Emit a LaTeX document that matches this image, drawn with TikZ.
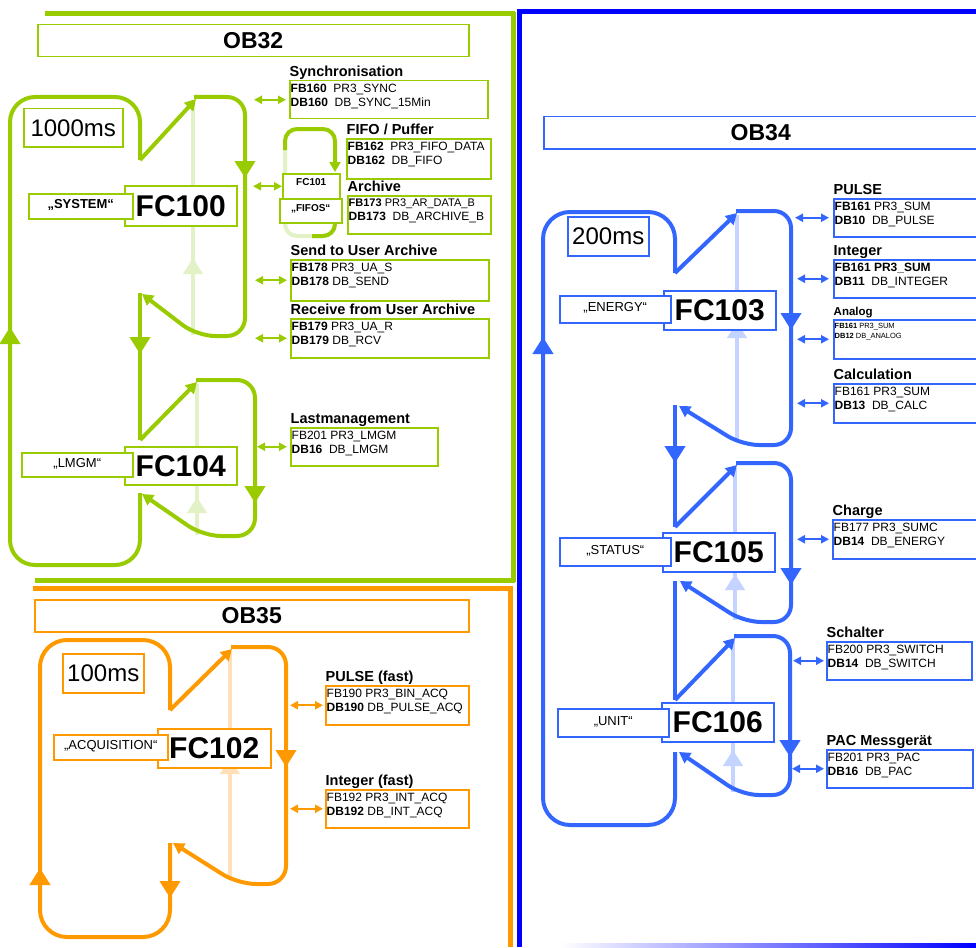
\documentclass[tikz,border=0pt]{standalone}
\usepackage{fontspec}
\setmainfont{Liberation Sans}
\usetikzlibrary{arrows.meta}
\definecolor{gC}{HTML}{99CC00}
\definecolor{gL}{HTML}{E2F1C6}
\definecolor{oC}{HTML}{FF9900}
\definecolor{oL}{HTML}{FFE0B8}
\definecolor{bC}{HTML}{3366FF}
\definecolor{bL}{HTML}{C4D3FF}
\definecolor{frameB}{HTML}{0000FF}
\newcommand\infobox[9][]{%
  \node[#3, minimum width=#6pt, minimum height=#7pt] (#2) at (#4,#5) {};
  \node[ttl] at (#2.north west) {#8};
  \node[lns,#1] at (#2.north west) {#9};
}
\begin{document}
\begin{tikzpicture}[x=1pt,y=-1pt,
 lw/.style={line width=4pt},
 gl/.style={lw,draw=gC}, gt/.style={lw,draw=gL},
 ol/.style={lw,draw=oC}, ot/.style={lw,draw=oL},
 bl/.style={lw,draw=bC}, bt/.style={lw,draw=bL},
 bigtip/.style={-{Triangle[length=17pt,width=20pt]}},
 diagtip/.style={-{Triangle[length=11pt,width=12pt]}},
 lighttip/.style={-{Triangle[length=16pt,width=19pt]}},
 dbl/.style={line width=2.2pt,{Triangle[length=8pt,width=8pt]}-{Triangle[length=8pt,width=8pt]}},
 frm/.style={line width=1.5pt, fill=white, inner sep=0pt, anchor=north west},
 gbox/.style={frm,draw=gC}, obox/.style={frm,draw=oC}, bbox/.style={frm,draw=bC},
 obt/.style={font=\fontsize{23}{26}\selectfont\bfseries},
 fcf/.style={font=\fontsize{30}{32}\selectfont\bfseries},
 tmf/.style={font=\fontsize{24}{26}\selectfont},
 lab/.style={font=\fontsize{13}{15}\selectfont, text depth=4pt},
 ttl/.style={anchor=south west, inner xsep=0.5pt, inner ysep=1pt, text depth=2.5pt, font=\fontsize{14.5}{16}\selectfont\bfseries},
 lns/.style={anchor=north west, align=left, inner xsep=1.5pt, inner ysep=4pt, font=\fontsize{12}{14}\selectfont},
]
\useasboundingbox[fill=white] (0,0) rectangle (976,947);

% ---------- frame lines ----------
\draw[gC, line width=5pt] (45,14) -- (515,14);
\draw[gC, line width=5pt] (513,12) -- (513,582);
\draw[gC, line width=5pt] (35,580) -- (515,580);
\draw[oC, line width=5pt] (33,588) -- (512,588);
\draw[oC, line width=5pt] (510,586) -- (510,947);
\draw[frameB, line width=5pt] (519,10) -- (519,947);
\draw[frameB, line width=5pt] (517,12) -- (976,12);
\shade[left color=white, right color=frameB] (560,943) rectangle (976,947);

% ---------- OB32 (green) ----------
\draw[gt] (193,100) -- (193,335);
\draw[gt, lighttip] (193,300) -- (193,258);
\draw[gl, rounded corners=25] (140,160) -- (140,97) -- (10,97) -- (10,565) -- (140,565) -- (140,493);
\draw[gl, bigtip] (10,360) -- (10,327);
\draw[gl, diagtip] (140,160) -- (196,99);
\draw[gl, rounded corners=18, diagtip] (194,97) -- (245,97) -- (245,336) -- (197,336) -- (142,294);
\draw[gl, bigtip] (245,150) -- (245,178);
\draw[gl] (140,293) -- (140,440);
\draw[gl, bigtip] (140,320) -- (140,354);
% FC104 loop
\draw[gt] (197,384) -- (197,535);
\draw[gt, lighttip] (197,525) -- (197,497);
\draw[gl, diagtip] (140,440) -- (197,382);
\draw[gl, rounded corners=18, diagtip] (196,380) -- (255,380) -- (255,536) -- (203,536) -- (142,494);
\draw[gl, bigtip] (255,470) -- (255,503);
% FIFO loop
\draw[gt, rounded corners=12] (285,150) -- (285,236) -- (335,236) -- (335,222);
\draw[gl, rounded corners=12, -{Triangle[length=10pt,width=11pt]}] (285,150) -- (285,129) -- (335,129) -- (335,172);
\draw[gl, rounded corners=12] (335,222) -- (335,236) -- (312,236);

\node[gbox, obt, minimum width=431pt, minimum height=32pt] (ob32) at (37,24) {OB32};
\node[gbox, tmf, minimum width=99pt, minimum height=38pt] (t1000) at (23,108) {1000ms};
\node[gbox, fcf, minimum width=112pt, minimum height=40pt] (fc100) at (124,185) {FC100};
\node[gbox, lab, font=\fontsize{13}{15}\selectfont\bfseries, minimum width=104pt, minimum height=25pt] (sys) at (28,193) {„SYSTEM“};
\node[gbox, fcf, minimum width=112pt, minimum height=38pt] (fc104) at (124,446) {FC104};
\node[gbox, lab, minimum width=111pt, minimum height=24pt] (lmgmlab) at (21,452) {„LMGM“};
\node[gbox, font=\fontsize{10}{12}\selectfont\bfseries, text depth=8pt, minimum width=57pt, minimum height=25pt] (fc101) at (282,173) {FC101};
\node[gbox, font=\fontsize{10}{12}\selectfont\bfseries, text depth=6pt, minimum width=62pt, minimum height=24pt] (fifos) at (279,198) {„FIFOS“};

\infobox{sync}{gbox}{289}{80}{198}{38}{Synchronisation}{\textbf{FB160}\ \ PR3\_SYNC\\\textbf{DB160}\ \ DB\_SYNC\_15Min}
\infobox{fifo}{gbox}{346}{138}{144}{40}{FIFO / Puffer}{\textbf{FB162}\ \ PR3\_FIFO\_DATA\\\textbf{DB162}\ \ DB\_FIFO}
\infobox{arch}{gbox}{347}{195}{143}{38}{Archive}{{\fontsize{11}{14}\selectfont\textbf{FB173}\ PR3\_AR\_DATA\_B}\\\textbf{DB173}\ \ DB\_ARCHIVE\_B}
\infobox{send}{gbox}{290}{259}{198}{41}{Send to User Archive}{\textbf{FB178}\ PR3\_UA\_S\\\textbf{DB178}\ DB\_SEND}
\infobox{rcv}{gbox}{290}{318}{198}{39}{Receive from User Archive}{\textbf{FB179}\ PR3\_UA\_R\\\textbf{DB179}\ DB\_RCV}
\infobox{lmgm}{gbox}{290}{427}{147}{38}{Lastmanagement}{FB201 PR3\_LMGM\\\textbf{DB16}\ \ DB\_LMGM}

\draw[gC, dbl] ([xshift=-3pt]sync.west) -- ++(-32,0);
\draw[gC, dbl] (fc101.west) -- ++(-29,0);
\draw[gC, dbl] ([xshift=-3pt]send.west) -- ++(-32,0);
\draw[gC, dbl] ([xshift=-3pt]rcv.west) -- ++(-32,0);
\draw[gC, dbl] ([xshift=-3pt]lmgm.west) -- ++(-30,0);

% ---------- OB35 (orange) ----------
\draw[ot] (230,652) -- (230,880);
\draw[ot, lighttip] (230,790) -- (230,758);
\draw[ol, rounded corners=27] (170,710) -- (170,640) -- (40,640) -- (40,937) -- (170,937) -- (170,843);
\draw[ol, bigtip] (40,900) -- (40,868);
\draw[ol, bigtip] (170,865) -- (170,898);
\draw[ol, diagtip] (170,710) -- (232,649);
\draw[ol, rounded corners=18, diagtip] (231,647) -- (286,647) -- (286,884) -- (238,884) -- (173,843);
\draw[ol, bigtip] (286,735) -- (286,767);

\node[obox, obt, minimum width=434pt, minimum height=32pt] (ob35) at (34,599) {OB35};
\node[obox, tmf, minimum width=81pt, minimum height=39pt] (t100) at (62,653) {100ms};
\node[obox, fcf, minimum width=113pt, minimum height=39pt] (fc102) at (157,728) {FC102};
\node[obox, lab, minimum width=114pt, minimum height=25pt] (acq) at (53,734) {„ACQUISITION“};

\infobox{pulsef}{obox}{325}{685}{143}{39}{PULSE (fast)}{FB190 PR3\_BIN\_ACQ\\\textbf{DB190} DB\_PULSE\_ACQ}
\infobox{intf}{obox}{325}{789}{143}{38}{Integer (fast)}{FB192 PR3\_INT\_ACQ\\\textbf{DB192} DB\_INT\_ACQ}
\draw[oC, dbl] ([xshift=-2pt]pulsef.west) -- ++(-33,0);
\draw[oC, dbl] ([xshift=-2pt]intf.west) -- ++(-33,0);

% ---------- OB34 (blue) ----------
\draw[bt] (737,215) -- (737,442);
\draw[bt, lighttip] (737,345) -- (737,322);
\draw[bl, rounded corners=27] (675,273) -- (675,212) -- (543,212) -- (543,825) -- (675,825) -- (675,752);
\draw[bl, bigtip] (543,380) -- (543,337);
\draw[bl, diagtip] (675,273) -- (737,213);
\draw[bl, rounded corners=17, diagtip] (736,211) -- (791,211) -- (791,445) -- (742,445) -- (679,406);
\draw[bl, bigtip] (791,300) -- (791,330);
\draw[bl] (675,405) -- (675,527);
\draw[bl, bigtip] (675,430) -- (675,463);
% FC105
\draw[bt] (735,468) -- (735,620);
\draw[bt, lighttip] (735,595) -- (735,574);
\draw[bl, diagtip] (675,527) -- (737,465);
\draw[bl, rounded corners=17, diagtip] (736,463) -- (791,463) -- (791,622) -- (744,622) -- (680,581);
\draw[bl, bigtip] (791,555) -- (791,585);
\draw[bl] (675,581) -- (675,700);
% FC106
\draw[bt] (733,640) -- (733,792);
\draw[bt, lighttip] (733,770) -- (733,750);
\draw[bl, diagtip] (675,700) -- (735,638);
\draw[bl, rounded corners=17, diagtip] (734,636) -- (790,636) -- (790,795) -- (742,795) -- (679,752);
\draw[bl, bigtip] (790,725) -- (790,757);

\node[bbox, obt, minimum width=434pt, minimum height=32pt] (ob34) at (543,116) {OB34};
\node[bbox, tmf, minimum width=81pt, minimum height=39pt] (t200) at (567,216) {200ms};
\node[bbox, fcf, minimum width=112pt, minimum height=39pt] (fc103) at (663,290) {FC103};
\node[bbox, lab, minimum width=111pt, minimum height=27pt] (energy) at (559,295) {„ENERGY“};
\node[bbox, fcf, minimum width=112pt, minimum height=39pt] (fc105) at (662,532) {FC105};
\node[bbox, lab, minimum width=111pt, minimum height=28pt] (status) at (559,537) {„STATUS“};
\node[bbox, fcf, minimum width=112pt, minimum height=39pt] (fc106) at (661,702) {FC106};
\node[bbox, lab, minimum width=111pt, minimum height=28pt] (unit) at (557,708) {„UNIT“};

\infobox{bpulse}{bbox}{833}{198}{150}{38}{PULSE}{\textbf{FB161} PR3\_SUM\\\textbf{DB10}\ \ DB\_PULSE}
\infobox{bint}{bbox}{833}{259}{150}{38}{Integer}{\textbf{FB161 PR3\_SUM}\\\textbf{DB11}\ \ DB\_INTEGER}
\infobox[font=\fontsize{7.5}{10}\selectfont]{bana}{bbox}{833}{319}{150}{39}{{\fontsize{11.5}{13}\selectfont Analog}}{\textbf{FB161} PR3\_SUM\\\textbf{DB12} DB\_ANALOG}
\infobox{bcalc}{bbox}{833}{383}{150}{39}{Calculation}{FB161 PR3\_SUM\\\textbf{DB13}\ \ DB\_CALC}
\infobox{bchg}{bbox}{832}{519}{150}{39}{Charge}{FB177 PR3\_SUMC\\\textbf{DB14}\ \ DB\_ENERGY}
\infobox{bsch}{bbox}{826}{641}{145}{38}{Schalter}{FB200 PR3\_SWITCH\\\textbf{DB14}\ \ DB\_SWITCH}
\infobox{bpac}{bbox}{826}{749}{146}{38}{PAC Messgerät}{FB201 PR3\_PAC\\\textbf{DB16}\ \ DB\_PAC}

\draw[bC, dbl] ([xshift=-4pt]bpulse.west) -- ++(-34,0);
\draw[bC, dbl] ([xshift=-4pt]bint.west) -- ++(-32,0);
\draw[bC, dbl] ([xshift=-4pt]bana.west) -- ++(-32,0);
\draw[bC, dbl] ([xshift=-4pt]bcalc.west) -- ++(-32,0);
\draw[bC, dbl] ([xshift=-3pt]bchg.west) -- ++(-32,0);
\draw[bC, dbl] ([xshift=-2pt]bsch.west) -- ++(-31,0);
\draw[bC, dbl] ([xshift=-2pt]bpac.west) -- ++(-32,0);
\end{tikzpicture}
\end{document}
